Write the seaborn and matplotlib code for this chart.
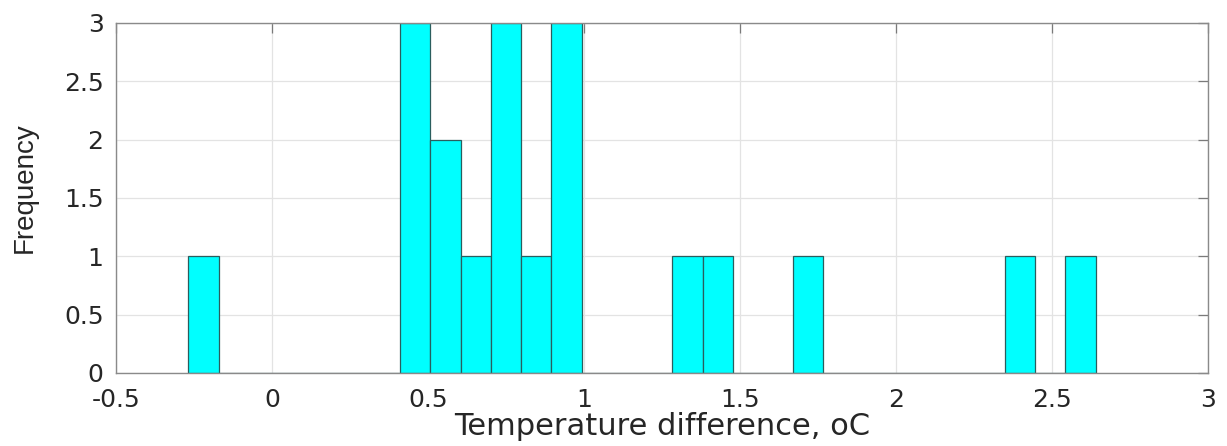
import numpy as np
import pandas as pd
import matplotlib
matplotlib.use("Agg")
import matplotlib.pyplot as plt
import seaborn as sns

# Histogram layout: 30 equal bins spanning the smallest to the largest difference
bin_lo = -0.268
bin_hi = 2.640
n_bins = 30

# Occupied bins (index into the 30 bins) and the number of differences in each
bin_index = [0, 7, 8, 9, 10, 11, 12, 16, 17, 20, 27, 29]
bin_count = [1, 3, 2, 1, 3, 1, 3, 1, 1, 1, 1, 1]

x_ticks = [-0.5, 0, 0.5, 1, 1.5, 2, 2.5, 3]
x_tick_labels = ["-0.5", "0", "0.5", "1", "1.5", "2", "2.5", "3"]
y_ticks = [0, 0.5, 1, 1.5, 2, 2.5, 3]
y_tick_labels = ["0", "0.5", "1", "1.5", "2", "2.5", "3"]

edges = np.linspace(bin_lo, bin_hi, n_bins + 1)
centers = (edges[:-1] + edges[1:]) / 2
df = pd.DataFrame({"diff": centers[bin_index], "count": bin_count})

sns.set_theme(style="white")
plt.rcParams["font.family"] = ["DejaVu Sans"]

text_color = "#262626"

fig = plt.figure(figsize=(12.27, 4.46), dpi=100)
ax = fig.add_axes([116 / 1227, 73 / 446, 1092 / 1227, 350 / 446])

sns.histplot(
    data=df, x="diff", weights="count", bins=edges.tolist(), ax=ax,
    color="#00FFFF", alpha=1, edgecolor="#2a5e5e", linewidth=0.9,
)

ax.set_xlim(-0.5, 3)
ax.set_ylim(0, 3)
ax.set_xticks(x_ticks)
ax.set_xticklabels(x_tick_labels)
ax.set_yticks(y_ticks)
ax.set_yticklabels(y_tick_labels)

ax.set_axisbelow(True)
ax.grid(True, color="#e3e3e3", linewidth=0.9)

ax.tick_params(axis="both", which="major", direction="in", length=7, width=0.9,
               color="#7a7a7a", labelsize=18, labelcolor=text_color,
               top=True, right=True)
ax.tick_params(axis="x", pad=11)
ax.tick_params(axis="y", pad=9)

for side in ax.spines.values():
    side.set_visible(True)
    side.set_color("#8a8a8a")
    side.set_linewidth(1.0)

ax.set_xlabel("Temperature difference, oC", fontsize=22, color=text_color, labelpad=0)
ax.set_ylabel("Frequency", fontsize=20, color=text_color,
              family=["Liberation Sans", "DejaVu Sans"])
ax.yaxis.set_label_coords(-0.072, 0.53)

fig.savefig("out.png", dpi=100)
